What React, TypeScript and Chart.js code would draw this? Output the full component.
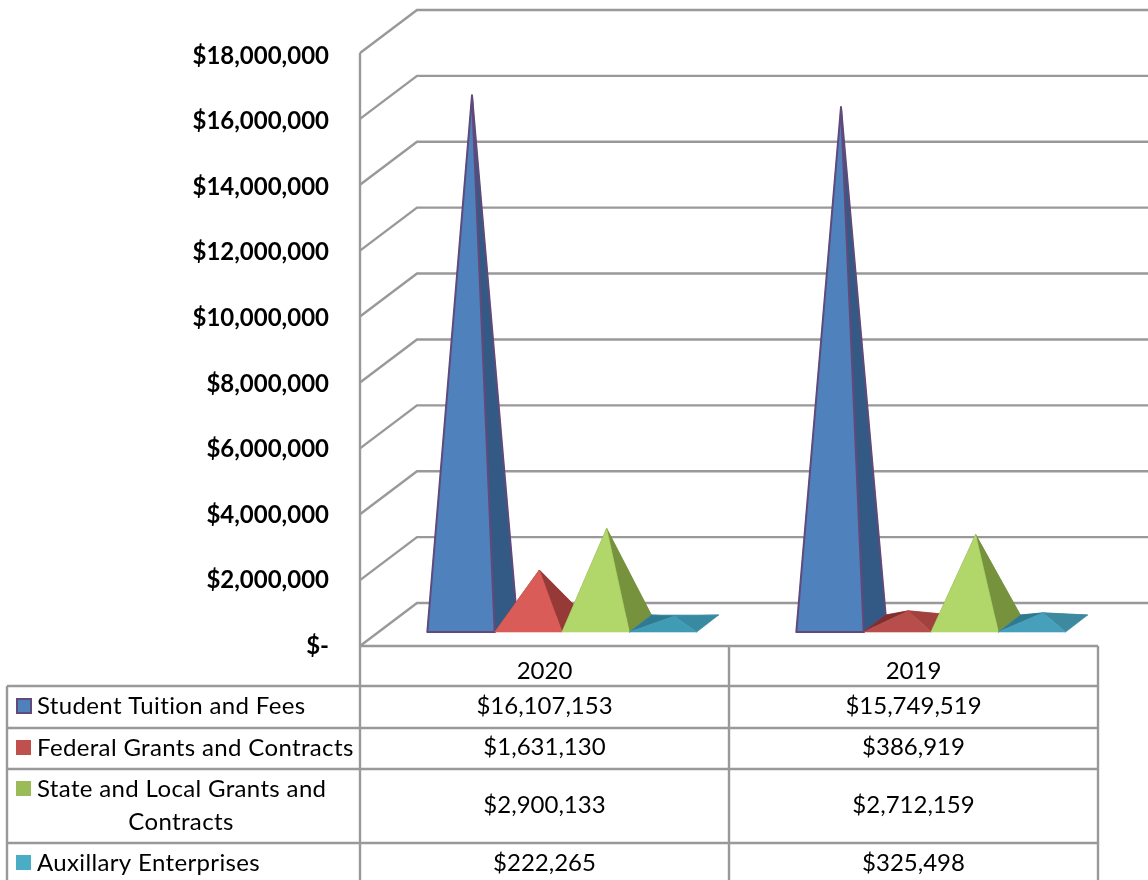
import React, { useEffect, useRef } from "react";
import { Chart, registerables } from "chart.js";

Chart.register(...registerables);

const categories = ["2020", "2019"];
const seriesNames = [
  "Student Tuition and Fees",
  "Federal Grants and Contracts",
  "State and Local Grants and Contracts",
  "Auxillary Enterprises",
];
const studentTuition = [16107153, 15749519];
const federalGrants = [1631130, 386919];
const stateGrants = [2900133, 2712159];
const auxillary = [222265, 325498];

const legendColors = ["#4f81bd", "#c0504d", "#9bbb59", "#4bacc6"];
// one entry per category: [front, right, left, back]
const faceShades = [
  [["#4f81bd", "#335a84", "#335a84", "#335a84"], ["#4f81bd", "#335a84", "#335a84", "#335a84"]],
  [["#d95c58", "#963a38", "#7f2f2d", "#963a38"], ["#b84e4b", "#a2423f", "#7f2f2d", "#b04a47"]],
  [["#b1d66a", "#76923c", "#76923c", "#76923c"], ["#b1d66a", "#76923c", "#76923c", "#76923c"]],
  [["#409bb4", "#378aa1", "#2e7a90", "#3d90a9"], ["#469fbb", "#3c89a0", "#307a90", "#3d8ca4"]],
];
const outlineColors = ["#604a7b", null, null, null];

const GRID = "#999999";
const FONT = "Lato";
const WALL = { x: 57, y: 43 };
const GAP = { x: 17.5, y: 14 };
const DEPTH = { x: 22, y: 17 };
const GRID_STRETCH = 593 / 590;

const money = (v: number) => "$" + v.toLocaleString("en-US");

function poly(ctx: any, pts: number[][], fill: string, stroke: string | null) {
  ctx.beginPath();
  pts.forEach((p, i) => (i ? ctx.lineTo(p[0], p[1]) : ctx.moveTo(p[0], p[1])));
  ctx.closePath();
  ctx.fillStyle = fill;
  ctx.fill();
  ctx.lineJoin = "round";
  ctx.lineWidth = stroke ? 2 : 0.6;
  ctx.strokeStyle = stroke || fill;
  ctx.stroke();
}

function drawPyramid(ctx: any, el: any, d: number, i: number) {
  const outline = outlineColors[d];
  const p = el.getProps(["x", "y", "base", "width"], true);
  const fy = p.base - GAP.y;
  const l = p.x - p.width / 2 + GAP.x;
  const r = p.x + p.width / 2 + GAP.x;
  const fl = [l, fy];
  const fr = [r, fy];
  const bl = [l + DEPTH.x, fy - DEPTH.y];
  const br = [r + DEPTH.x, fy - DEPTH.y];
  const apex = [p.x + GAP.x + DEPTH.x / 2, p.y - GAP.y - DEPTH.y / 2];
  const s = faceShades[d][i];
  poly(ctx, [bl, br, apex], s[3], null);
  poly(ctx, [fl, bl, apex], s[2], null);
  poly(ctx, [fr, br, apex], s[1], outline);
  poly(ctx, [fl, fr, apex], s[0], outline);
}

const pyramid3d = {
  id: "pyramid3d",
  beforeDatasetsDraw(chart: any) {
    const { ctx, scales, data } = chart;
    const y = scales.y;
    const x = scales.x;
    ctx.save();
    ctx.strokeStyle = GRID;
    ctx.lineWidth = 2.4;
    const wallY = (v: number) => y.bottom - (y.bottom - y.getPixelForValue(v)) * GRID_STRETCH;
    y.ticks.forEach((t: any) => {
      const py = wallY(t.value);
      ctx.beginPath();
      ctx.moveTo(x.left, py);
      ctx.lineTo(x.left + WALL.x, py - WALL.y);
      ctx.lineTo(chart.width, py - WALL.y);
      ctx.stroke();
    });
    ctx.beginPath();
    ctx.moveTo(x.left, wallY(y.max));
    ctx.lineTo(x.left, y.bottom);
    ctx.stroke();
    data.datasets.forEach((_: any, d: number) => {
      chart.getDatasetMeta(d).data.forEach((el: any, i: number) => drawPyramid(ctx, el, d, i));
    });
    ctx.restore();
  },
  beforeDatasetDraw() {
    return false;
  },
  afterDraw(chart: any) {
    const { ctx, scales, data } = chart;
    const x = scales.x;
    const y = scales.y;
    const tableLeft = 7;
    const rows = [686, 728, 769, 843];
    const columns = [x.left, x.getPixelForValue(0) * 2 - x.left, x.right];
    ctx.save();
    ctx.strokeStyle = GRID;
    ctx.lineWidth = 2.4;
    const line = (a: number, b: number, c: number, e: number) => {
      ctx.beginPath();
      ctx.moveTo(a, b);
      ctx.lineTo(c, e);
      ctx.stroke();
    };
    line(x.left, y.bottom, x.right, y.bottom);
    rows.forEach((r) => line(tableLeft, r, x.right, r));
    line(tableLeft, rows[0], tableLeft, 880);
    columns.forEach((c) => line(c, y.bottom, c, 880));

    ctx.fillStyle = "#000";
    ctx.textBaseline = "middle";
    const rowMid = [706, 747, 805, 863];
    const nameLines = [
      [seriesNames[0], 706],
      [seriesNames[1], 748],
      ["State and Local Grants and", 789],
      [seriesNames[3], 863],
    ] as any[];
    data.datasets.forEach((ds: any, d: number) => {
      const [label, ly] = nameLines[d];
      ctx.fillStyle = legendColors[d];
      ctx.fillRect(16, ly - 8, 15, 15);
      if (outlineColors[d]) {
        ctx.strokeStyle = outlineColors[d];
        ctx.lineWidth = 2;
        ctx.strokeRect(17, ly - 7, 14, 14);
      }
      ctx.fillStyle = "#000";
      ctx.font = `24px ${FONT}`;
      ctx.letterSpacing = "0.35px";
      ctx.textAlign = "left";
      ctx.fillText(label, 37, ly);
      ctx.textAlign = "center";
      if (d === 2) ctx.fillText("Contracts", 181, 822);
      ctx.letterSpacing = "0px";
      ds.data.forEach((v: number, i: number) => {
        ctx.fillText(money(v), x.getPixelForValue(i), rowMid[d]);
      });
    });
    ctx.restore();
  },
};

export default function App() {
  const ref = useRef<HTMLCanvasElement>(null);
  useEffect(() => {
    const series = [studentTuition, federalGrants, stateGrants, auxillary];
    const chart = new Chart(ref.current as HTMLCanvasElement, {
      type: "bar",
      data: {
        labels: categories,
        datasets: series.map((values, i) => ({
          label: seriesNames[i],
          data: values,
          backgroundColor: legendColors[i],
          categoryPercentage: 0.73,
          barPercentage: 1,
        })),
      },
      options: {
        responsive: false,
        animation: false,
        layout: { padding: { top: 56, right: 50, left: 0, bottom: 0 } },
        plugins: { legend: { display: false }, tooltip: { enabled: false }, title: { display: false } },
        scales: {
          x: {
            grid: { display: false },
            border: { display: false },
            ticks: { color: "#000", font: { family: FONT, size: 24 }, padding: 3, maxRotation: 0 },
            afterFit: (s: any) => {
              s.height = 234;
            },
          },
          y: {
            min: 0,
            max: 18000000,
            grid: { display: false },
            border: { display: false },
            ticks: {
              stepSize: 2000000,
              color: "#000",
              padding: 23,
              font: { family: FONT, size: 24, weight: "bold" },
              callback: (v: any) => (v === 0 ? "$-" : money(Number(v))),
            },
            afterFit: (s: any) => {
              s.width = 360;
            },
          },
        },
      },
      plugins: [pyramid3d],
    } as any);
    return () => chart.destroy();
  }, []);
  return (
    <div style={{ position: "absolute", left: 0, top: 0, width: 1148, height: 880, overflow: "hidden", background: "#fff" }}>
      <canvas ref={ref} width={1148} height={880} style={{ display: "block" }} />
    </div>
  );
}
